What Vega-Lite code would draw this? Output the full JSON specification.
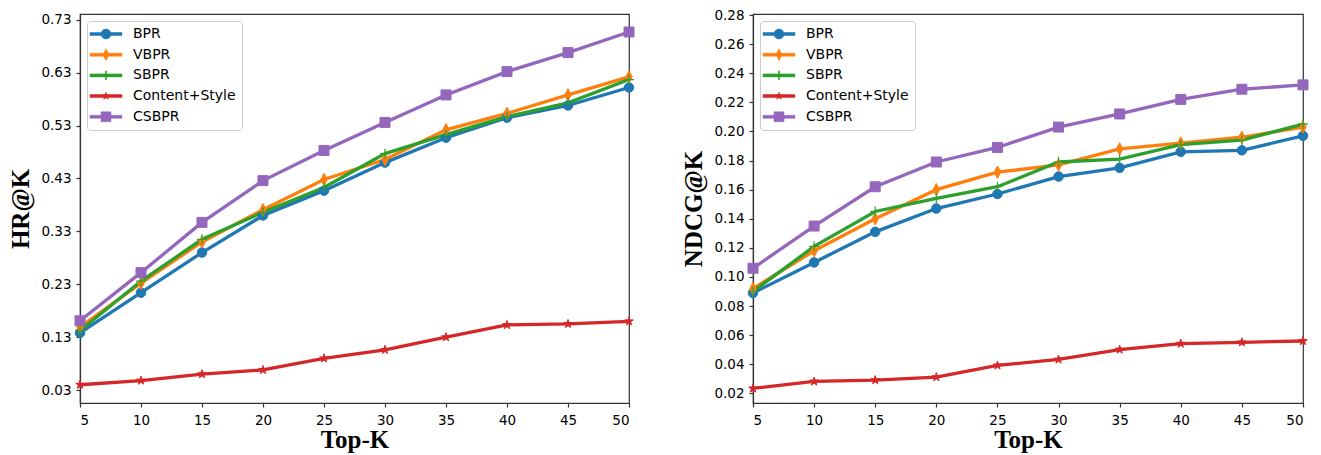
{
  "$schema": "https://vega.github.io/schema/vega-lite/v6.json",
  "padding": {"left": 8, "top": 7, "right": 5, "bottom": 2},
  "bounds": "flush",
  "spacing": 124,
  "config": {
    "font": "DejaVu Sans",
    "view": {"stroke": "#333333", "strokeWidth": 1.2},
    "axis": {"grid": false, "domainColor": "#333333", "domainWidth": 1.2, "tickColor": "#333333", "tickWidth": 1.2, "tickSize": 4, "labelColor": "#000000", "labelFont": "DejaVu Sans", "labelFontSize": 13.5, "titleFont": "Liberation Serif", "titleFontSize": 25, "titleFontWeight": "bold", "titleColor": "#000000"},
    "axisX": {"labelPadding": 6, "titlePadding": 1},
    "axisY": {"labelPadding": 5, "titlePadding": 7},
    "legend": {"orient": "top-left", "offset": 7, "labelFont": "DejaVu Sans", "labelFontSize": 14, "labelColor": "#000000", "padding": 6, "strokeColor": "#cccccc", "fillColor": "#ffffff", "cornerRadius": 3, "symbolSize": 100, "symbolStrokeWidth": 0.5, "rowPadding": 6.7, "labelOffset": 20, "symbolOffset": 6}
  },
  "datasets": {
    "hr": [
      {"k": 5, "series": "BPR", "v": 0.138}, {"k": 10, "series": "BPR", "v": 0.214}, {"k": 15, "series": "BPR", "v": 0.290}, {"k": 20, "series": "BPR", "v": 0.360}, {"k": 25, "series": "BPR", "v": 0.407}, {"k": 30, "series": "BPR", "v": 0.460}, {"k": 35, "series": "BPR", "v": 0.507}, {"k": 40, "series": "BPR", "v": 0.545}, {"k": 45, "series": "BPR", "v": 0.568}, {"k": 50, "series": "BPR", "v": 0.602},
      {"k": 5, "series": "VBPR", "v": 0.149}, {"k": 10, "series": "VBPR", "v": 0.232}, {"k": 15, "series": "VBPR", "v": 0.310}, {"k": 20, "series": "VBPR", "v": 0.371}, {"k": 25, "series": "VBPR", "v": 0.428}, {"k": 30, "series": "VBPR", "v": 0.466}, {"k": 35, "series": "VBPR", "v": 0.522}, {"k": 40, "series": "VBPR", "v": 0.553}, {"k": 45, "series": "VBPR", "v": 0.588}, {"k": 50, "series": "VBPR", "v": 0.622},
      {"k": 5, "series": "SBPR", "v": 0.142}, {"k": 10, "series": "SBPR", "v": 0.236}, {"k": 15, "series": "SBPR", "v": 0.315}, {"k": 20, "series": "SBPR", "v": 0.366}, {"k": 25, "series": "SBPR", "v": 0.413}, {"k": 30, "series": "SBPR", "v": 0.477}, {"k": 35, "series": "SBPR", "v": 0.513}, {"k": 40, "series": "SBPR", "v": 0.547}, {"k": 45, "series": "SBPR", "v": 0.573}, {"k": 50, "series": "SBPR", "v": 0.617},
      {"k": 5, "series": "Content+Style", "v": 0.040}, {"k": 10, "series": "Content+Style", "v": 0.048}, {"k": 15, "series": "Content+Style", "v": 0.060}, {"k": 20, "series": "Content+Style", "v": 0.068}, {"k": 25, "series": "Content+Style", "v": 0.090}, {"k": 30, "series": "Content+Style", "v": 0.106}, {"k": 35, "series": "Content+Style", "v": 0.130}, {"k": 40, "series": "Content+Style", "v": 0.153}, {"k": 45, "series": "Content+Style", "v": 0.155}, {"k": 50, "series": "Content+Style", "v": 0.160},
      {"k": 5, "series": "CSBPR", "v": 0.161}, {"k": 10, "series": "CSBPR", "v": 0.252}, {"k": 15, "series": "CSBPR", "v": 0.347}, {"k": 20, "series": "CSBPR", "v": 0.426}, {"k": 25, "series": "CSBPR", "v": 0.483}, {"k": 30, "series": "CSBPR", "v": 0.536}, {"k": 35, "series": "CSBPR", "v": 0.588}, {"k": 40, "series": "CSBPR", "v": 0.632}, {"k": 45, "series": "CSBPR", "v": 0.668}, {"k": 50, "series": "CSBPR", "v": 0.707}
    ],
    "ndcg": [
      {"k": 5, "series": "BPR", "v": 0.089}, {"k": 10, "series": "BPR", "v": 0.110}, {"k": 15, "series": "BPR", "v": 0.131}, {"k": 20, "series": "BPR", "v": 0.147}, {"k": 25, "series": "BPR", "v": 0.157}, {"k": 30, "series": "BPR", "v": 0.169}, {"k": 35, "series": "BPR", "v": 0.175}, {"k": 40, "series": "BPR", "v": 0.186}, {"k": 45, "series": "BPR", "v": 0.187}, {"k": 50, "series": "BPR", "v": 0.197},
      {"k": 5, "series": "VBPR", "v": 0.092}, {"k": 10, "series": "VBPR", "v": 0.118}, {"k": 15, "series": "VBPR", "v": 0.140}, {"k": 20, "series": "VBPR", "v": 0.160}, {"k": 25, "series": "VBPR", "v": 0.172}, {"k": 30, "series": "VBPR", "v": 0.177}, {"k": 35, "series": "VBPR", "v": 0.188}, {"k": 40, "series": "VBPR", "v": 0.192}, {"k": 45, "series": "VBPR", "v": 0.196}, {"k": 50, "series": "VBPR", "v": 0.203},
      {"k": 5, "series": "SBPR", "v": 0.090}, {"k": 10, "series": "SBPR", "v": 0.121}, {"k": 15, "series": "SBPR", "v": 0.145}, {"k": 20, "series": "SBPR", "v": 0.154}, {"k": 25, "series": "SBPR", "v": 0.162}, {"k": 30, "series": "SBPR", "v": 0.179}, {"k": 35, "series": "SBPR", "v": 0.181}, {"k": 40, "series": "SBPR", "v": 0.191}, {"k": 45, "series": "SBPR", "v": 0.194}, {"k": 50, "series": "SBPR", "v": 0.205},
      {"k": 5, "series": "Content+Style", "v": 0.0234}, {"k": 10, "series": "Content+Style", "v": 0.0282}, {"k": 15, "series": "Content+Style", "v": 0.0291}, {"k": 20, "series": "Content+Style", "v": 0.0312}, {"k": 25, "series": "Content+Style", "v": 0.0392}, {"k": 30, "series": "Content+Style", "v": 0.0433}, {"k": 35, "series": "Content+Style", "v": 0.0501}, {"k": 40, "series": "Content+Style", "v": 0.0542}, {"k": 45, "series": "Content+Style", "v": 0.0551}, {"k": 50, "series": "Content+Style", "v": 0.0560},
      {"k": 5, "series": "CSBPR", "v": 0.106}, {"k": 10, "series": "CSBPR", "v": 0.135}, {"k": 15, "series": "CSBPR", "v": 0.162}, {"k": 20, "series": "CSBPR", "v": 0.179}, {"k": 25, "series": "CSBPR", "v": 0.189}, {"k": 30, "series": "CSBPR", "v": 0.203}, {"k": 35, "series": "CSBPR", "v": 0.212}, {"k": 40, "series": "CSBPR", "v": 0.222}, {"k": 45, "series": "CSBPR", "v": 0.229}, {"k": 50, "series": "CSBPR", "v": 0.232}
    ]
  },
  "resolve": {
    "scale": {"x": "independent", "y": "independent", "fill": "independent", "stroke": "independent", "shape": "independent"},
    "legend": {"fill": "independent", "stroke": "independent", "shape": "independent"}
  },
  "hconcat": [
    {
      "width": 549,
      "height": 389,
      "data": {"name": "hr"},
      "encoding": {
        "x": {"field": "k", "type": "quantitative", "scale": {"domain": [5, 50], "nice": false, "zero": false}, "axis": {"values": [5, 10, 15, 20, 25, 30, 35, 40, 45, 50], "title": "Top-K"}},
        "y": {"field": "v", "type": "quantitative", "scale": {"domain": [0.0055, 0.741], "nice": false, "zero": false}, "axis": {"values": [0.03, 0.13, 0.23, 0.33, 0.43, 0.53, 0.63, 0.73], "format": ".2f", "title": "HR@K"}}
      },
      "layer": [
        {
          "transform": [{"filter": "false"}],
          "mark": {"type": "point", "filled": true, "size": 100, "strokeWidth": 0.5, "opacity": 1},
          "encoding": {
            "fill": {"field": "series", "type": "nominal", "scale": {"domain": ["BPR", "VBPR", "SBPR", "Content+Style", "CSBPR"], "range": ["#1f77b4", "#ff7f0e", "#2ca02c", "#d62728", "#9467bd"]}, "legend": {"title": null}},
            "stroke": {"field": "series", "type": "nominal", "scale": {"domain": ["BPR", "VBPR", "SBPR", "Content+Style", "CSBPR"], "range": ["#1f77b4", "#ff7f0e", "#2ca02c", "#d62728", "#9467bd"]}, "legend": {"title": null}},
            "shape": {"field": "series", "type": "nominal", "scale": {"domain": ["BPR", "VBPR", "SBPR", "Content+Style", "CSBPR"], "range": ["M-3.2,-0.3L3.2,-0.3L3.2,0.3L-3.2,0.3ZM1,0A1,1 0 1,1 -1,0A1,1 0 1,1 1,0Z", "M-3.2,-0.3L3.2,-0.3L3.2,0.3L-3.2,0.3ZM0,-1.2L0.6,0L0,1.2L-0.6,0Z", "M-3.2,-0.3L3.2,-0.3L3.2,0.3L-3.2,0.3ZM-0.12,-0.9L0.12,-0.9L0.12,0.9L-0.12,0.9Z", "M-3.2,-0.3L3.2,-0.3L3.2,0.3L-3.2,0.3ZM0,-0.8L0.18,-0.247L0.761,-0.247L0.29,0.094L0.47,0.647L0,0.306L-0.47,0.647L-0.29,0.094L-0.761,-0.247L-0.18,-0.247Z", "M-3.2,-0.3L3.2,-0.3L3.2,0.3L-3.2,0.3ZM-1,-1L1,-1L1,1L-1,1Z"]}, "legend": {"title": null}}
          }
        },
        {
          "mark": {"type": "line", "strokeWidth": 3.3},
          "encoding": {
            "stroke": {"field": "series", "type": "nominal", "scale": {"domain": ["BPR", "VBPR", "SBPR", "Content+Style", "CSBPR"], "range": ["#1f77b4", "#ff7f0e", "#2ca02c", "#d62728", "#9467bd"]}, "legend": {"title": null}}
          }
        },
        {"transform": [{"filter": "datum.series === 'BPR'"}], "mark": {"type": "point", "shape": "circle", "filled": true, "fill": "#1f77b4", "stroke": "#1f77b4", "strokeWidth": 1, "size": 90, "opacity": 1}},
        {"transform": [{"filter": "datum.series === 'VBPR'"}], "mark": {"type": "point", "shape": "M0,-1.25L0.65,0L0,1.25L-0.65,0Z", "filled": true, "fill": "#ff7f0e", "stroke": "#ff7f0e", "strokeWidth": 1, "size": 100, "opacity": 1}},
        {"transform": [{"filter": "datum.series === 'SBPR'"}], "mark": {"type": "point", "shape": "M-1,0L1,0M0,-1L0,1", "filled": true, "fill": "#2ca02c", "stroke": "#2ca02c", "strokeWidth": 1.2, "size": 100, "opacity": 1}},
        {"transform": [{"filter": "datum.series === 'Content+Style'"}], "mark": {"type": "point", "shape": "M0,-0.9L0.2,-0.278L0.856,-0.278L0.327,0.106L0.529,0.728L0,0.344L-0.529,0.728L-0.327,0.106L-0.856,-0.278L-0.2,-0.278Z", "filled": true, "fill": "#d62728", "stroke": "#d62728", "strokeWidth": 1, "size": 100, "opacity": 1}},
        {"transform": [{"filter": "datum.series === 'CSBPR'"}], "mark": {"type": "point", "shape": "square", "filled": true, "fill": "#9467bd", "stroke": "#9467bd", "strokeWidth": 1, "size": 100, "opacity": 1}}
      ]
    },
    {
      "width": 550,
      "height": 389,
      "data": {"name": "ndcg"},
      "encoding": {
        "x": {"field": "k", "type": "quantitative", "scale": {"domain": [5, 50], "nice": false, "zero": false}, "axis": {"values": [5, 10, 15, 20, 25, 30, 35, 40, 45, 50], "title": "Top-K"}},
        "y": {"field": "v", "type": "quantitative", "scale": {"domain": [0.0134, 0.2807], "nice": false, "zero": false}, "axis": {"values": [0.02, 0.04, 0.06, 0.08, 0.10, 0.12, 0.14, 0.16, 0.18, 0.20, 0.22, 0.24, 0.26, 0.28], "format": ".2f", "title": "NDCG@K"}}
      },
      "layer": [
        {
          "transform": [{"filter": "false"}],
          "mark": {"type": "point", "filled": true, "size": 100, "strokeWidth": 0.5, "opacity": 1},
          "encoding": {
            "fill": {"field": "series", "type": "nominal", "scale": {"domain": ["BPR", "VBPR", "SBPR", "Content+Style", "CSBPR"], "range": ["#1f77b4", "#ff7f0e", "#2ca02c", "#d62728", "#9467bd"]}, "legend": {"title": null}},
            "stroke": {"field": "series", "type": "nominal", "scale": {"domain": ["BPR", "VBPR", "SBPR", "Content+Style", "CSBPR"], "range": ["#1f77b4", "#ff7f0e", "#2ca02c", "#d62728", "#9467bd"]}, "legend": {"title": null}},
            "shape": {"field": "series", "type": "nominal", "scale": {"domain": ["BPR", "VBPR", "SBPR", "Content+Style", "CSBPR"], "range": ["M-3.2,-0.3L3.2,-0.3L3.2,0.3L-3.2,0.3ZM1,0A1,1 0 1,1 -1,0A1,1 0 1,1 1,0Z", "M-3.2,-0.3L3.2,-0.3L3.2,0.3L-3.2,0.3ZM0,-1.2L0.6,0L0,1.2L-0.6,0Z", "M-3.2,-0.3L3.2,-0.3L3.2,0.3L-3.2,0.3ZM-0.12,-0.9L0.12,-0.9L0.12,0.9L-0.12,0.9Z", "M-3.2,-0.3L3.2,-0.3L3.2,0.3L-3.2,0.3ZM0,-0.8L0.18,-0.247L0.761,-0.247L0.29,0.094L0.47,0.647L0,0.306L-0.47,0.647L-0.29,0.094L-0.761,-0.247L-0.18,-0.247Z", "M-3.2,-0.3L3.2,-0.3L3.2,0.3L-3.2,0.3ZM-1,-1L1,-1L1,1L-1,1Z"]}, "legend": {"title": null}}
          }
        },
        {
          "mark": {"type": "line", "strokeWidth": 3.3},
          "encoding": {
            "stroke": {"field": "series", "type": "nominal", "scale": {"domain": ["BPR", "VBPR", "SBPR", "Content+Style", "CSBPR"], "range": ["#1f77b4", "#ff7f0e", "#2ca02c", "#d62728", "#9467bd"]}, "legend": {"title": null}}
          }
        },
        {"transform": [{"filter": "datum.series === 'BPR'"}], "mark": {"type": "point", "shape": "circle", "filled": true, "fill": "#1f77b4", "stroke": "#1f77b4", "strokeWidth": 1, "size": 90, "opacity": 1}},
        {"transform": [{"filter": "datum.series === 'VBPR'"}], "mark": {"type": "point", "shape": "M0,-1.25L0.65,0L0,1.25L-0.65,0Z", "filled": true, "fill": "#ff7f0e", "stroke": "#ff7f0e", "strokeWidth": 1, "size": 100, "opacity": 1}},
        {"transform": [{"filter": "datum.series === 'SBPR'"}], "mark": {"type": "point", "shape": "M-1,0L1,0M0,-1L0,1", "filled": true, "fill": "#2ca02c", "stroke": "#2ca02c", "strokeWidth": 1.2, "size": 100, "opacity": 1}},
        {"transform": [{"filter": "datum.series === 'Content+Style'"}], "mark": {"type": "point", "shape": "M0,-0.9L0.2,-0.278L0.856,-0.278L0.327,0.106L0.529,0.728L0,0.344L-0.529,0.728L-0.327,0.106L-0.856,-0.278L-0.2,-0.278Z", "filled": true, "fill": "#d62728", "stroke": "#d62728", "strokeWidth": 1, "size": 100, "opacity": 1}},
        {"transform": [{"filter": "datum.series === 'CSBPR'"}], "mark": {"type": "point", "shape": "square", "filled": true, "fill": "#9467bd", "stroke": "#9467bd", "strokeWidth": 1, "size": 100, "opacity": 1}}
      ]
    }
  ]
}
